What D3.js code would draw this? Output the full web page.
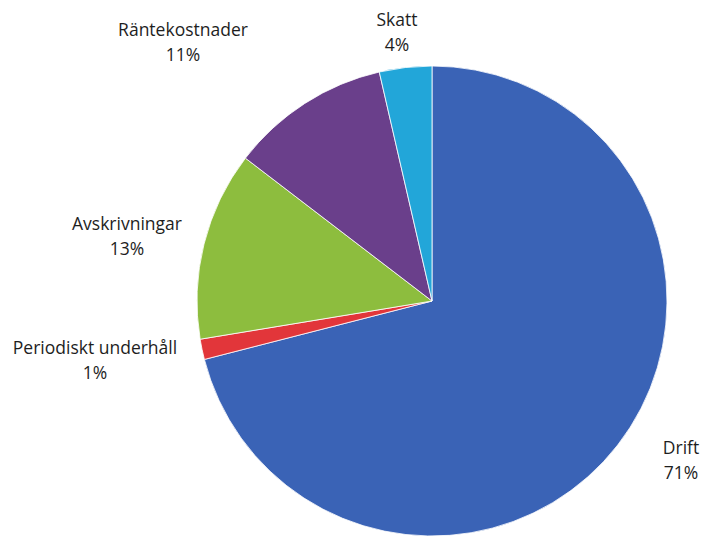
<!DOCTYPE html>
<html>
<head>
<meta charset="utf-8">
<script src="https://cdn.jsdelivr.net/npm/d3@7"></script>
<style>
  body { margin: 0; background: #fff; }
  text { font-family: "Open Sans", "Noto Sans", sans-serif; fill: #1e1e1e; }
</style>
</head>
<body>
<svg id="chart" width="701" height="537"></svg>
<script>
// slices, clockwise from 12 o'clock
var categories = ["Drift", "Periodiskt underhåll", "Avskrivningar", "Räntekostnader", "Skatt"];
var values = [71, 1.4, 13, 11, 3.6];
var colors = ["#3a63b6", "#e2363a", "#8dbd3e", "#6a3f8b", "#22a6d9"];
// label centres (x, y of first line)
var labelPos = [[681, 448], [95, 348], [127, 224], [183, 30], [397, 20]];

var svg = d3.select("#chart");
var cx = 432, cy = 301, r = 235;

var total = d3.sum(values);
var pie = d3.pie().sort(null).value(function(d) { return d; });
var arc = d3.arc().innerRadius(0).outerRadius(r);

var g = svg.append("g").attr("transform", "translate(" + cx + "," + cy + ")");

g.selectAll("path")
  .data(pie(values))
  .enter().append("path")
  .attr("d", arc)
  .attr("fill", function(d, i) { return colors[i]; })
  .attr("stroke", "#fff")
  .attr("stroke-width", 0.8);

var labels = svg.selectAll("text.lbl")
  .data(categories)
  .enter().append("text")
  .attr("class", "lbl")
  .attr("text-anchor", "middle")
  .attr("font-size", 17.5)
  .attr("x", function(d, i) { return labelPos[i][0]; })
  .attr("y", function(d, i) { return labelPos[i][1]; });

labels.append("tspan")
  .attr("x", function(d, i) { return labelPos[i][0]; })
  .attr("dy", "0.35em")
  .text(function(d) { return d; });

labels.append("tspan")
  .attr("x", function(d, i) { return labelPos[i][0]; })
  .attr("dy", 25)
  .text(function(d, i) { return Math.round(values[i] / total * 100) + "%"; });
</script>
</body>
</html>
